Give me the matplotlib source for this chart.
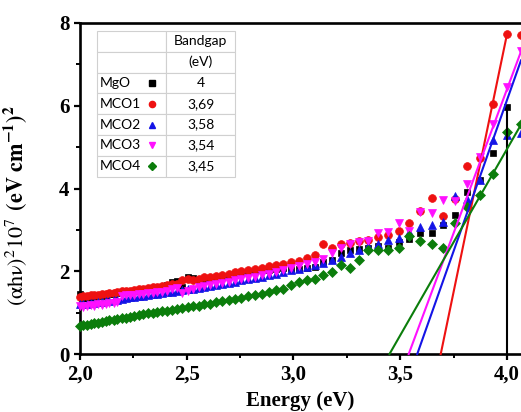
import numpy as np
import matplotlib
matplotlib.use("Agg")
import matplotlib.pyplot as plt
from matplotlib.ticker import MultipleLocator, FuncFormatter

# photon energies (eV) of the measured points
energy = [2.000, 2.016, 2.033, 2.050, 2.067, 2.084, 2.102, 2.120, 2.138, 2.157,
          2.175, 2.195, 2.214, 2.234, 2.255, 2.275, 2.296, 2.318, 2.340, 2.362,
          2.385, 2.408, 2.431, 2.455, 2.480, 2.505, 2.531, 2.557, 2.583, 2.611,
          2.638, 2.667, 2.696, 2.725, 2.756, 2.787, 2.818, 2.851, 2.884, 2.918,
          2.952, 2.988, 3.024, 3.062, 3.100, 3.139, 3.179, 3.221, 3.263, 3.307,
          3.351, 3.397, 3.444, 3.493, 3.543, 3.594, 3.647, 3.701, 3.758, 3.815,
          3.875, 3.937, 4.000, 4.066]

# (alpha h nu)^2 in units of 1e7 (eV cm^-1)^2
mgo = [1.44, 1.36, 1.35, 1.37, 1.38, 1.40, 1.42, 1.41, 1.44, 1.46,
       1.48, 1.50, 1.52, 1.51, 1.53, 1.55, 1.56, 1.57, 1.59, 1.61,
       1.63, 1.67, 1.73, 1.76, 1.62, 1.85, 1.83, 1.80, 1.79, 1.82,
       1.84, 1.86, 1.89, 1.92, 1.95, 1.98, 2.00, 2.02, 2.04, 2.06,
       2.08, 2.05, 2.06, 2.08, 2.10, 2.22, 2.26, 2.43, 2.51, 2.53,
       2.57, 2.60, 2.55, 2.70, 2.78, 2.93, 2.93, 3.12, 3.36, 3.92,
       4.20, 4.85, 5.96, np.nan]
mco1 = [1.38, 1.40, 1.39, 1.42, 1.43, 1.42, 1.45, 1.46, 1.48, 1.47,
        1.50, 1.52, 1.53, 1.52, 1.55, 1.57, 1.58, 1.60, 1.61, 1.63,
        1.64, 1.66, 1.68, 1.70, 1.78, 1.82, 1.80, 1.82, 1.85, 1.87,
        1.89, 1.92, 1.94, 1.97, 2.00, 2.03, 2.06, 2.09, 2.12, 2.15,
        2.18, 2.22, 2.25, 2.32, 2.40, 2.67, 2.55, 2.66, 2.69, 2.72,
        2.76, 2.82, 2.88, 2.98, 3.16, 3.45, 3.76, 3.33, 3.74, 4.54,
        4.73, 6.05, 7.73, 7.72]
mco2 = [1.22, 1.20, 1.21, 1.23, 1.24, 1.25, 1.26, 1.27, 1.29, 1.30,
        1.31, 1.33, 1.35, 1.37, 1.38, 1.39, 1.41, 1.42, 1.44, 1.45,
        1.47, 1.49, 1.51, 1.53, 1.55, 1.56, 1.58, 1.60, 1.62, 1.64,
        1.66, 1.69, 1.72, 1.75, 1.78, 1.81, 1.84, 1.87, 1.90, 1.94,
        1.98, 2.02, 2.06, 2.10, 2.15, 2.20, 2.28, 2.35, 2.43, 2.51,
        2.60, 2.65, 2.75, 2.80, 2.95, 3.08, 3.12, 3.20, 3.82, 3.75,
        4.20, 5.17, 5.30, 5.33]
mco3 = [1.15, 1.13, 1.16, 1.18, 1.17, 1.20, 1.19, 1.22, 1.24, 1.23,
        1.25, 1.40, 1.42, 1.43, 1.42, 1.44, 1.45, 1.47, 1.48, 1.49,
        1.51, 1.53, 1.56, 1.60, 1.47, 1.52, 1.58, 1.62, 1.64, 1.66,
        1.69, 1.72, 1.75, 1.78, 1.81, 1.84, 1.87, 1.90, 1.94, 1.98,
        2.02, 2.08, 2.13, 2.18, 2.23, 2.30, 2.45, 2.55, 2.66, 2.71,
        2.73, 2.93, 2.95, 3.16, 2.98, 3.44, 3.40, 3.72, 3.70, 4.12,
        4.75, 5.57, 6.45, 7.33]
mco4 = [0.67, 0.69, 0.71, 0.73, 0.74, 0.76, 0.78, 0.79, 0.81, 0.83,
        0.84, 0.86, 0.88, 0.90, 0.92, 0.94, 0.96, 0.98, 0.99, 1.01,
        1.03, 1.05, 1.07, 1.09, 1.11, 1.13, 1.15, 1.17, 1.20, 1.22,
        1.25, 1.27, 1.30, 1.33, 1.36, 1.39, 1.42, 1.46, 1.50, 1.54,
        1.58, 1.66, 1.74, 1.78, 1.82, 1.90, 1.98, 2.14, 2.07, 2.28,
        2.51, 2.52, 2.52, 2.55, 2.85, 2.72, 2.67, 2.57, 3.16, 3.55,
        3.84, 4.36, 5.37, 5.55]

samples = ['MgO', 'MCO1', 'MCO2', 'MCO3', 'MCO4']
bandgap = [4.0, 3.69, 3.58, 3.54, 3.45]
# slopes of the linear Tauc fits and the energy where each drawn fit stops
fit_slope = [None, 24.9, 14.6, 13.9, 9.0]
fit_end = [4.0, 4.0, 4.066, 4.066, 4.066]

series = [mgo, mco1, mco2, mco3, mco4]
colors = ['black', '#ee1111', '#1414e6', '#ff10ff', '#0b7d0b']
markers = ['s', 'o', '^', 'v', 'D']
msizes = [5.0, 5.6, 5.8, 5.8, 5.2]

plt.rcParams['mathtext.fontset'] = 'stix'
serif_bold = dict(family='Liberation Serif', weight='bold')

fig = plt.figure(figsize=(5.21, 4.12), dpi=100)
ax = fig.add_axes([80 / 521, 1 - 354 / 412, 441 / 521, 331 / 412])

for vals, c, m, ms in zip(series, colors, markers, msizes):
    ax.plot(energy, vals, linestyle='none', marker=m, color=c,
            markersize=ms, markeredgewidth=0.5, clip_on=False, zorder=3)

# linear fits extrapolated to the energy axis
for i, (eg, k, e1) in enumerate(zip(bandgap, fit_slope, fit_end)):
    if k is None:
        ax.plot([eg, eg], [0, series[i][energy.index(e1)]],
                color=colors[i], lw=1.5, zorder=4)
    else:
        ax.plot([eg, e1], [0, k * (e1 - eg)], color=colors[i], lw=1.5,
                zorder=4, clip_on=False)

ax.set_xlim(2.0, 4.066)
ax.set_ylim(0, 8)
ax.spines['right'].set_visible(False)
for s in ['left', 'bottom', 'top']:
    ax.spines[s].set_linewidth(1.9)

ax.xaxis.set_major_locator(MultipleLocator(0.5))
ax.xaxis.set_minor_locator(MultipleLocator(0.25))
ax.yaxis.set_major_locator(MultipleLocator(2))
ax.yaxis.set_minor_locator(MultipleLocator(1))
ax.xaxis.set_major_formatter(FuncFormatter(lambda v, p: f'{v:.1f}'.replace('.', ',')))
ax.yaxis.set_major_formatter(FuncFormatter(lambda v, p: f'{v:.0f}'))
ax.tick_params(which='major', direction='out', length=4.5, width=1.6, pad=3)
ax.tick_params(which='minor', direction='out', length=3, width=1.4)
ax.tick_params(top=False, right=False, which='both')
for lab in ax.get_xticklabels() + ax.get_yticklabels():
    lab.set_fontfamily('Liberation Serif')
    lab.set_fontweight('bold')
    lab.set_fontsize(15)

ax.set_xlabel('Energy (eV)', fontsize=15, labelpad=5, **serif_bold)
ax.set_ylabel(r'$\mathrm{(\alpha h\nu)^2 10^7}$ $\mathbf{(eV\ cm^{-1})^2}$',
              fontsize=16, labelpad=4)
ax.yaxis.set_label_coords(-0.115, 0.45)

# bandgap table in the upper left corner
cell_text = [['', 'Bandgap'], ['', '(eV)']]
cell_text += [[name, f'{eg:g}'.replace('.', ',')] for name, eg in zip(samples, bandgap)]
tab = ax.table(cellText=cell_text, cellLoc='center',
               bbox=[0.038, 0.536, 0.314, 0.44], zorder=5)
tab.auto_set_font_size(False)
for (r, c), cell in tab.get_celld().items():
    cell.set_edgecolor('#d0d0d0')
    cell.set_linewidth(0.8)
    cell.get_text().set_fontfamily('Lato')
    cell.get_text().set_fontsize(10)
    if c == 0:
        cell.get_text().set_horizontalalignment('left')
        cell._loc = 'left'
        cell.PAD = 0.05

row_h = 0.44 / 7
for i, (c, m, ms) in enumerate(zip(colors, markers, msizes)):
    ax.plot(0.163, 0.976 - (i + 2.5) * row_h, marker=m, color=c,
            markersize=ms * 0.8, transform=ax.transAxes, zorder=6, clip_on=False)

fig.savefig('out.png', dpi=100)
